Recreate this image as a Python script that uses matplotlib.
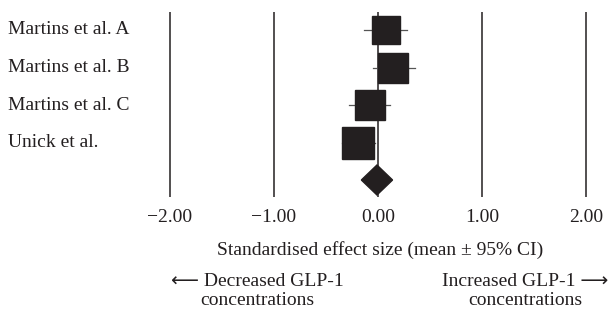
import matplotlib.pyplot as plt

# data
studies = ['Martins et al. A', 'Martins et al. B', 'Martins et al. C', 'Unick et al.']
means = [0.075, 0.14, -0.08, -0.19]
ci_low = [-0.13, -0.045, -0.275, -0.35]
ci_high = [0.275, 0.355, 0.12, -0.03]
weights = [20.0, 21.5, 21.0, 22.5]   # marker size (pt)
pooled = -0.01
pooled_low = -0.16
pooled_high = 0.14
ticks = [-2, -1, 0, 1, 2]
tick_labels = ['\u22122.00', '\u22121.00', '0.00', '1.00', '2.00']

ink = '#231f20'
fs = 14
plt.rcParams['font.family'] = ['Liberation Serif', 'DejaVu Serif']

W, H = 611, 313
fig = plt.figure(figsize=(W / 100, H / 100), dpi=100)

# axes placed in pixels: x=0 at px 378, 104 px per unit; rows 37.5 px apart
x0_px, unit = 378, 104
left_px, right_px = 100, 611
top_px, bottom_px = 12, 197
ax = fig.add_axes([left_px / W, 1 - bottom_px / H,
                   (right_px - left_px) / W, (bottom_px - top_px) / H])
ax.set_xlim((left_px - x0_px) / unit, (right_px - x0_px) / unit)
ax.set_ylim((bottom_px - 30) / 37.5, (top_px - 30) / 37.5)

for t in ticks:
    ax.axvline(t, color=ink, lw=1.1, zorder=1)

rows = list(range(len(studies)))
for i in rows:
    ax.plot([ci_low[i], ci_high[i]], [i, i], color='#555555', lw=0.9, zorder=2)
    ax.plot(means[i], i, marker='s', ms=weights[i], color=ink, mec=ink, zorder=3)
    fig.text(8 / W, 1 - (30 + 37.5 * i) / H, studies[i], fontsize=fs,
             color=ink, ha='left', va='center')

yd = len(studies)
ax.fill([pooled_low, pooled, pooled_high, pooled],
        [yd, yd - 0.4, yd, yd + 0.4], color=ink, zorder=3)

for s in ax.spines.values():
    s.set_visible(False)
ax.set_yticks([])
ax.set_xticks([])

for t, lab in zip(ticks, tick_labels):
    fig.text((x0_px + unit * t) / W, 1 - 218 / H, lab, fontsize=fs,
             color=ink, ha='center', va='center')

fig.text(380 / W, 1 - 250 / H, 'Standardised effect size (mean \u00b1 95% CI)',
         fontsize=fs, color=ink, ha='center', va='center')
fig.text(257 / W, 1 - 291 / H, '\u27f5 Decreased GLP-1\nconcentrations',
         fontsize=fs, color=ink, ha='center', va='center', linespacing=1.2,
         family=['Liberation Serif', 'DejaVu Sans'])
fig.text(525 / W, 1 - 291 / H, 'Increased GLP-1 \u27f6\nconcentrations',
         fontsize=fs, color=ink, ha='center', va='center', linespacing=1.2,
         family=['Liberation Serif', 'DejaVu Sans'])

fig.savefig('out.png', dpi=100)
